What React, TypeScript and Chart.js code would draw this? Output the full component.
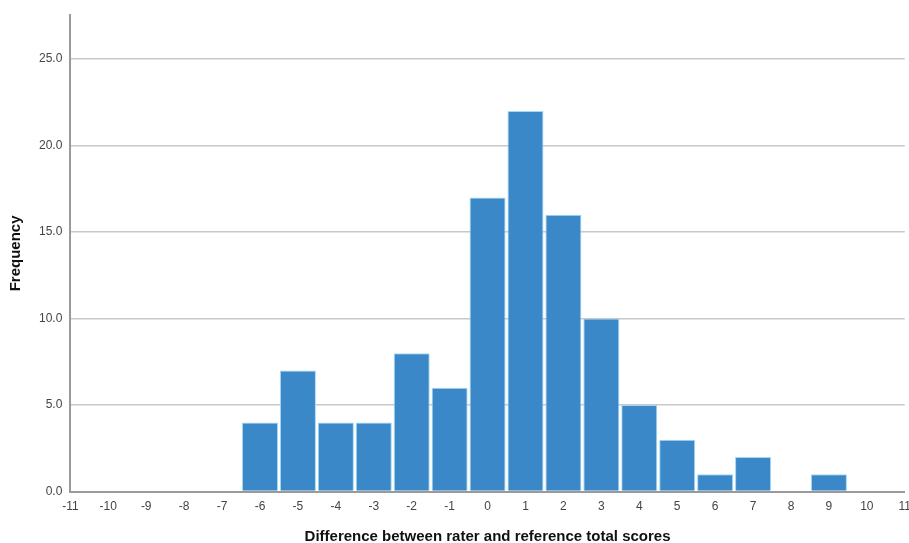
import React, { useEffect, useRef } from "react";
import { Chart, registerables } from "chart.js";

Chart.register(...registerables);

const differences = [-6, -5, -4, -3, -2, -1, 0, 1, 2, 3, 4, 5, 6, 7, 8, 9];
const frequencies = [4, 7, 4, 4, 8, 6, 17, 22, 16, 10, 5, 3, 1, 2, 0, 1];
const yTickValues = [0, 5, 10, 15, 20, 25];
const xTitle = "Difference between rater and reference total scores";
const yTitle = "Frequency";

export default function App() {
  const ref = useRef<HTMLCanvasElement | null>(null);
  useEffect(() => {
    document.body.style.margin = "0";
    const ctx = ref.current;
    if (!ctx) return;
    const font = "'Liberation Sans', Arial, sans-serif";
    const chart = new Chart(ctx, {
      type: "bar",
      data: {
        datasets: [
          {
            data: differences.map((d, i) => ({ x: d, y: frequencies[i] })),
            backgroundColor: "#3a88c8",
            borderColor: "#a3d8f3",
            borderWidth: 1,
            barPercentage: 0.95,
            categoryPercentage: 1,
          },
        ],
      },
      options: {
        responsive: false,
        animation: false,
        layout: { padding: { top: 8, left: 7, right: 0, bottom: 0 } },
        plugins: { legend: { display: false }, tooltip: { enabled: false } },
        scales: {
          x: {
            type: "linear",
            min: -11,
            max: 11,
            offset: false,
            grid: { display: true, color: "rgba(0,0,0,0)", drawTicks: false },
            border: { display: true, color: "#9a9a9a", width: 2 },
            ticks: {
              stepSize: 1,
              autoSkip: false,
              maxRotation: 0,
              padding: 8,
              color: "#444",
              font: { family: font, size: 12 },
              callback: (v: any) => String(v),
            },
            title: {
              display: true,
              text: xTitle,
              color: "#111",
              font: { family: font, size: 15, weight: "bold" },
              padding: { top: 6, bottom: 0 },
            },
          },
          y: {
            min: 0,
            max: 27.54,
            afterBuildTicks: (axis: any) => {
              axis.ticks = yTickValues.map((v) => ({ value: v }));
            },
            grid: { color: "#c8c8c8", lineWidth: 1.5, drawTicks: false },
            border: { display: true, color: "#9a9a9a", width: 2 },
            ticks: {
              padding: 8,
              color: "#444",
              font: { family: font, size: 12 },
              callback: (v: any) => Number(v).toFixed(1),
            },
            title: {
              display: true,
              text: yTitle,
              color: "#111",
              font: { family: font, size: 15, weight: "bold" },
              padding: { top: 0, bottom: 6 },
            },
          },
        },
      },
    });
    return () => chart.destroy();
  }, []);
  return (
    <div style={{ position: "absolute", left: 0, top: 0, width: 909, height: 543, overflow: "hidden", background: "#fff" }}>
      <canvas ref={ref} width={919} height={546} style={{ width: 919, height: 546, display: "block" }} />
    </div>
  );
}
